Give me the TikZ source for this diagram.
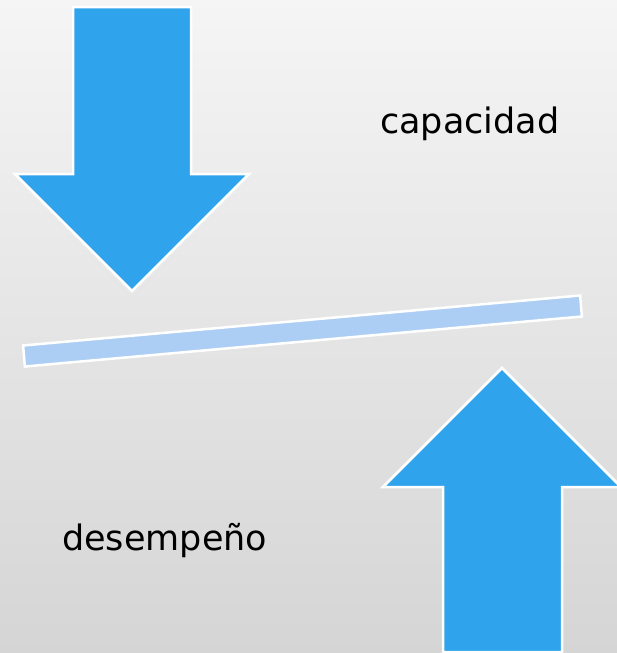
\documentclass[tikz,border=0pt]{standalone}
\usepackage{fontspec}
\setmainfont{DejaVu Sans}
\definecolor{arrowblue}{RGB}{47,163,236}
\definecolor{barblue}{RGB}{173,206,244}
\definecolor{bgtop}{RGB}{245,245,245}
\definecolor{bgbot}{RGB}{213,213,213}
\tikzset{
  bigarrow/.style={fill=arrowblue, draw=white, line width=2.5pt, line join=miter},
  beam/.style={fill=barblue, draw=white, line width=2.5pt, line join=miter},
  label/.style={inner sep=0pt, font=\fontsize{35}{40}\selectfont, text=black}
}
\begin{document}
\begin{tikzpicture}[x=1pt,y=-1pt]
\useasboundingbox (0,0) rectangle (616,653);
\shade[top color=bgtop, bottom color=bgbot] (-12,-2) rectangle (628,655);
% down arrow
\draw[bigarrow] (73,7) -- (191,7) -- (191,174) -- (249,174) -- (132,291) -- (15,174) -- (73,174) -- cycle;
% beam
\draw[beam] (23.1,345.5) -- (580.1,295.5) -- (581.9,316.5) -- (24.9,366.5) -- cycle;
% up arrow
\draw[bigarrow] (502,368) -- (621,487) -- (562,487) -- (562,652) -- (443,652) -- (443,487) -- (383,487) -- cycle;
\node[label, anchor=base west] (cap) at (380,133) {capacidad};
\node[label, anchor=base west] (des) at (62,550) {desempeño};
\end{tikzpicture}
\end{document}
